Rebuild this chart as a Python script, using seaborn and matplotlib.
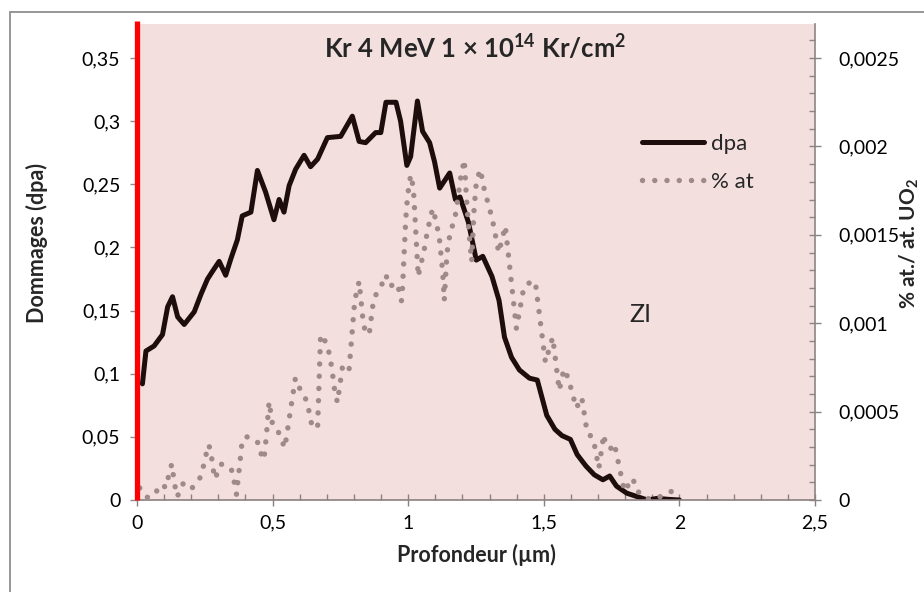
import matplotlib
matplotlib.use('Agg')
import matplotlib.pyplot as plt
from matplotlib.ticker import MultipleLocator, FuncFormatter
from matplotlib.patches import Rectangle
import pandas as pd
import seaborn as sns

# profil de dommages (dpa) - axe gauche
dpa_x = [0.020, 0.033, 0.063, 0.094, 0.113, 0.131, 0.150, 0.174, 0.211, 0.236,
         0.260, 0.278, 0.303, 0.327, 0.346, 0.370, 0.388, 0.420, 0.444, 0.474,
         0.505, 0.524, 0.542, 0.561, 0.585, 0.616, 0.640, 0.666, 0.702, 0.751,
         0.794, 0.819, 0.843, 0.880, 0.899, 0.918, 0.955, 0.972, 0.995, 1.009,
         1.034, 1.053, 1.079, 1.097, 1.116, 1.153, 1.174, 1.191, 1.222, 1.251,
         1.275, 1.309, 1.335, 1.355, 1.381, 1.410, 1.447, 1.476, 1.511, 1.541,
         1.567, 1.598, 1.623, 1.655, 1.686, 1.718, 1.743, 1.768, 1.806, 1.844,
         1.882, 1.919, 1.960, 2.000]
dpa_y = [0.092, 0.118, 0.122, 0.131, 0.153, 0.161, 0.145, 0.139, 0.149, 0.163,
         0.175, 0.181, 0.189, 0.178, 0.191, 0.206, 0.225, 0.228, 0.261, 0.244,
         0.222, 0.238, 0.228, 0.249, 0.262, 0.273, 0.264, 0.270, 0.287, 0.288,
         0.304, 0.284, 0.283, 0.291, 0.291, 0.315, 0.315, 0.300, 0.265, 0.272,
         0.316, 0.292, 0.283, 0.268, 0.247, 0.259, 0.238, 0.240, 0.220, 0.190,
         0.193, 0.177, 0.158, 0.129, 0.113, 0.103, 0.0965, 0.095, 0.067, 0.056,
         0.051, 0.048, 0.036, 0.027, 0.020, 0.016, 0.019, 0.011, 0.0054, 0.0027,
         0.0, 0.0013, 0.0005, 0.0]

# concentration Kr (% at./at. UO2) - axe droit
at_x = [0.010, 0.037, 0.065, 0.084, 0.109, 0.116, 0.128, 0.133, 0.140, 0.146,
        0.159, 0.171, 0.202, 0.230, 0.243, 0.252, 0.265, 0.274, 0.280, 0.286,
        0.296, 0.310, 0.338, 0.352, 0.359, 0.367, 0.376, 0.381, 0.384, 0.399,
        0.424, 0.450, 0.459, 0.468, 0.477, 0.487, 0.500, 0.522, 0.537, 0.545,
        0.584, 0.596, 0.616, 0.630, 0.637, 0.647, 0.666, 0.677, 0.702, 0.718,
        0.729, 0.739, 0.757, 0.773, 0.782, 0.803, 0.819, 0.832, 0.837, 0.856,
        0.872, 0.886, 0.905, 0.918, 0.929, 0.948, 0.960, 0.975, 0.979, 0.991,
        0.998, 1.009, 1.019, 1.037, 1.045, 1.056, 1.071, 1.090, 1.096, 1.114,
        1.127, 1.133, 1.143, 1.157, 1.170, 1.183, 1.195, 1.207, 1.215, 1.225,
        1.234, 1.243, 1.252, 1.267, 1.275, 1.310, 1.334, 1.358, 1.399, 1.426,
        1.455, 1.469, 1.506, 1.519, 1.533, 1.557, 1.574, 1.590, 1.620, 1.640,
        1.660, 1.682, 1.703, 1.721, 1.728, 1.746, 1.760, 1.795, 1.805, 1.816,
        1.838, 1.851, 1.869, 1.894, 1.924, 1.964, 1.985]
at_y = [0.000068, 0.000015, 0.000027, 0.000087, 0.000071, 0.000135, 0.000203, 0.000149, 0.000081, 0.000019,
        0.000042, 0.000097, 0.000066, 0.000116, 0.000178, 0.000243, 0.000313, 0.000253, 0.000187, 0.000120,
        0.000149, 0.000203, 0.000189, 0.000162, 0.000097, 0.000031, 0.000164, 0.000232, 0.000297, 0.000359,
        0.000351, 0.000319, 0.000251, 0.000228, 0.000361, 0.000556, 0.000425, 0.000382, 0.000324, 0.000295,
        0.000689, 0.000641, 0.000593, 0.000541, 0.000473, 0.000411, 0.000411, 0.000935, 0.000881, 0.000751,
        0.000617, 0.000552, 0.000747, 0.000718, 0.000738, 0.001130, 0.001236, 0.001038, 0.000977, 0.000935,
        0.001130, 0.001178, 0.001226, 0.001274, 0.001211, 0.001217, 0.001226, 0.001126, 0.001197, 0.001590,
        0.001724, 0.001839, 0.001768, 0.001264, 0.001326, 0.001389, 0.001523, 0.001648, 0.001619, 0.001494,
        0.001293, 0.001130, 0.001398, 0.001533, 0.001571, 0.001705, 0.001839, 0.001925, 0.001700, 0.001500,
        0.001350, 0.001650, 0.001810, 0.001870, 0.001790, 0.001590, 0.001400, 0.001550, 0.000970, 0.001200,
        0.001240, 0.001230, 0.000780, 0.000850, 0.000920, 0.000620, 0.000740, 0.000690, 0.000520, 0.000580,
        0.000380, 0.000350, 0.000180, 0.000370, 0.000310, 0.000290, 0.000320, 0.000066, 0.000050, 0.000120,
        0.000100, 0.000038, 0.000015, 0.000004, 0.000015, 0.000047, 0.000050]

x_ticks = [0, 0.5, 1, 1.5, 2, 2.5]
dpa_ticks = [0, 0.05, 0.1, 0.15, 0.2, 0.25, 0.3, 0.35]
at_ticks = [0, 0.0005, 0.001, 0.0015, 0.002, 0.0025]

sns.set_theme(style='ticks')
plt.rcParams['font.family'] = ['Lato', 'DejaVu Sans']
plt.rcParams['mathtext.fontset'] = 'custom'
plt.rcParams['mathtext.rm'] = 'Lato'
plt.rcParams['mathtext.bf'] = 'Lato:bold'

W, H = 924, 592
fig = plt.figure(figsize=(W / 100, H / 100), dpi=100)
ax = fig.add_axes([137 / W, 1 - 500 / H, (815 - 137) / W, (500 - 24) / H])
ax.set_facecolor('#F4DFDF')
ax2 = ax.twinx()

df_dpa = pd.DataFrame({'x': dpa_x, 'y': dpa_y})
df_at = pd.DataFrame({'x': at_x, 'y': at_y})

sns.lineplot(data=df_dpa, x='x', y='y', ax=ax, color='#1E0D0D', linewidth=3.6,
             sort=False, estimator=None, legend=False)
sns.lineplot(data=df_at, x='x', y='y', ax=ax2, color='#9F8989', linewidth=3.9,
             sort=False, estimator=None, legend=False, linestyle=(0, (0.01, 2.25)))
l_dpa = ax.get_lines()[0]
l_at = ax2.get_lines()[0]
l_dpa.set_solid_joinstyle('round')
l_at.set_dash_capstyle('round')

# trait rouge vertical à la surface
ax2.plot([0, 0], [0, 1.006], transform=ax2.get_xaxis_transform(), color='#FF0000',
         linewidth=3.8, clip_on=False, solid_capstyle='butt', zorder=5)

ax.set_xlim(0, 2.5)
ax.set_ylim(0, 0.377)
ax2.set_ylim(0, 0.377 / 0.35 * 0.0025)

fmt = FuncFormatter(lambda v, p: ('%g' % v).replace('.', ','))
ax.set_xticks(x_ticks)
ax.set_yticks(dpa_ticks)
ax2.set_yticks(at_ticks)
for a in (ax.xaxis, ax.yaxis, ax2.yaxis):
    a.set_major_formatter(fmt)
ax.xaxis.set_minor_locator(MultipleLocator(0.1))
ax2.yaxis.set_minor_locator(MultipleLocator(0.0001))

axis_col = '#8C7F7F'
for s in ['top', 'left', 'right']:
    ax.spines[s].set_visible(False)
for s in ['top', 'left', 'bottom']:
    ax2.spines[s].set_visible(False)
ax.spines['bottom'].set_color(axis_col)
ax.spines['bottom'].set_linewidth(1.2)
ax2.spines['right'].set_color('#8C8484')
ax2.spines['right'].set_linewidth(1.2)

tick_fs = 14
ax.tick_params(axis='x', which='major', direction='inout', length=9, width=1,
               color=axis_col, pad=6, labelsize=tick_fs, labelcolor='black')
ax.tick_params(axis='x', which='minor', direction='in', length=4, width=1, color=axis_col)
ax.tick_params(axis='y', which='major', direction='out', length=5, width=1,
               color='#8C8C8C', pad=7, labelsize=tick_fs, labelcolor='black')
ax2.tick_params(axis='y', which='major', direction='inout', length=9, width=1,
                color='#8C8484', pad=12, labelsize=tick_fs, labelcolor='black')
ax2.tick_params(axis='y', which='minor', direction='in', length=4, width=1, color='#8C8484')
ax.set_xlabel('')
ax.set_ylabel('')
ax2.set_ylabel('')

# cadre extérieur du graphique
fig.patches.append(Rectangle((10 / W, -0.05), 1.0, 1 - 12 / H + 0.05, transform=fig.transFigure,
                             fill=False, edgecolor='#8F8F8F', linewidth=1.3))

fig.text(475 / W, 1 - 47 / H, r'Kr 4 MeV 1 × 10$^{\mathbf{14}}$ Kr/cm$^{\mathbf{2}}$',
         ha='center', va='center', fontsize=18.5, fontweight='bold')
fig.text(640 / W, 1 - 315 / H, 'ZI', ha='center', va='center', fontsize=18)
fig.text(476 / W, 1 - 555 / H, 'Profondeur (µm)', ha='center', va='center',
         fontsize=15.5, fontweight='bold')
fig.text(37 / W, 1 - 243 / H, 'Dommages (dpa)', ha='center', va='center',
         rotation=90, fontsize=15.5, fontweight='bold')
fig.text(909 / W, 1 - 243 / H, r'% at./ at. UO$_{\mathbf{2}}$', ha='center', va='center',
         rotation=90, fontsize=15, fontweight='bold')

ax2.legend([l_dpa, l_at], ['dpa', '% at'], loc='upper left',
           bbox_to_anchor=(642 / W, 1 - 134 / H), bbox_transform=fig.transFigure,
           frameon=False, handlelength=2.8, handletextpad=0.3, labelspacing=0.8,
           borderpad=0, borderaxespad=0, fontsize=16)

fig.savefig('out.png', dpi=100)
